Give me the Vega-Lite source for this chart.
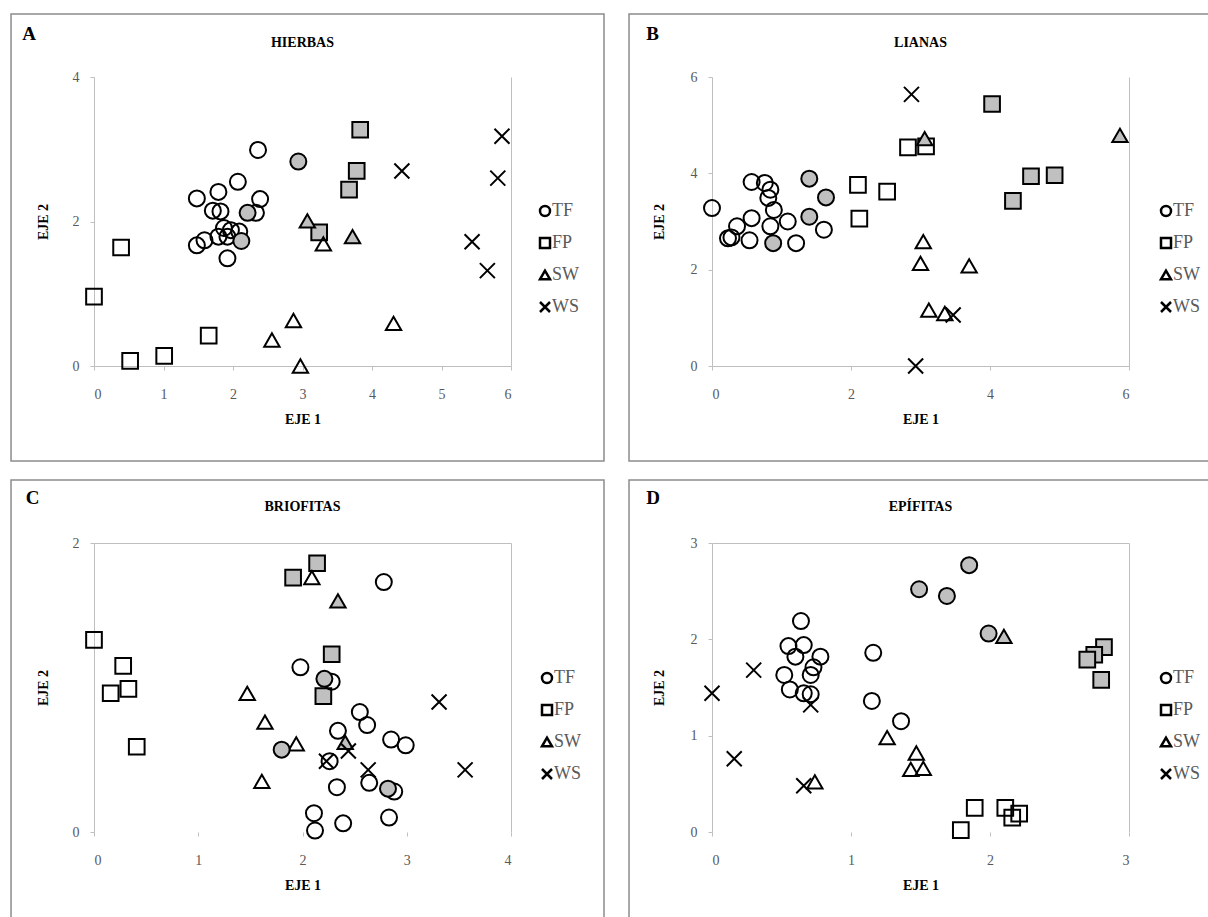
{
  "$schema": "https://vega.github.io/schema/vega-lite/v6.json",
  "background": "white",
  "padding": {"left": 10, "top": 13, "right": 0, "bottom": 0},
  "spacing": 17,
  "datasets": {
    "A": [
      {"grupo": "TF", "relleno": "no", "eje1": 1.48, "eje2": 1.67},
      {"grupo": "TF", "relleno": "no", "eje1": 1.59, "eje2": 1.74},
      {"grupo": "TF", "relleno": "no", "eje1": 1.48, "eje2": 2.32},
      {"grupo": "TF", "relleno": "no", "eje1": 1.79, "eje2": 2.41},
      {"grupo": "TF", "relleno": "no", "eje1": 2.07, "eje2": 2.55},
      {"grupo": "TF", "relleno": "no", "eje1": 2.36, "eje2": 2.99},
      {"grupo": "TF", "relleno": "no", "eje1": 2.39, "eje2": 2.31},
      {"grupo": "TF", "relleno": "no", "eje1": 1.71, "eje2": 2.15},
      {"grupo": "TF", "relleno": "no", "eje1": 1.82, "eje2": 2.14},
      {"grupo": "TF", "relleno": "no", "eje1": 2.33, "eje2": 2.12},
      {"grupo": "TF", "relleno": "no", "eje1": 1.87, "eje2": 1.91},
      {"grupo": "TF", "relleno": "no", "eje1": 1.97, "eje2": 1.88},
      {"grupo": "TF", "relleno": "no", "eje1": 2.09, "eje2": 1.86},
      {"grupo": "TF", "relleno": "no", "eje1": 1.79, "eje2": 1.79},
      {"grupo": "TF", "relleno": "no", "eje1": 1.92, "eje2": 1.79},
      {"grupo": "TF", "relleno": "no", "eje1": 1.92, "eje2": 1.49},
      {"grupo": "TF", "relleno": "si", "eje1": 2.21, "eje2": 2.12},
      {"grupo": "TF", "relleno": "si", "eje1": 2.12, "eje2": 1.73},
      {"grupo": "TF", "relleno": "si", "eje1": 2.94, "eje2": 2.83},
      {"grupo": "FP", "relleno": "no", "eje1": 0.0, "eje2": 0.96},
      {"grupo": "FP", "relleno": "no", "eje1": 0.39, "eje2": 1.64},
      {"grupo": "FP", "relleno": "no", "eje1": 0.52, "eje2": 0.07},
      {"grupo": "FP", "relleno": "no", "eje1": 1.01, "eje2": 0.14},
      {"grupo": "FP", "relleno": "no", "eje1": 1.65, "eje2": 0.42},
      {"grupo": "FP", "relleno": "si", "eje1": 3.83, "eje2": 3.27},
      {"grupo": "FP", "relleno": "si", "eje1": 3.78, "eje2": 2.70},
      {"grupo": "FP", "relleno": "si", "eje1": 3.67, "eje2": 2.44},
      {"grupo": "FP", "relleno": "si", "eje1": 3.24, "eje2": 1.85},
      {"grupo": "SW", "relleno": "si", "eje1": 3.07, "eje2": 2.01},
      {"grupo": "SW", "relleno": "si", "eje1": 3.72, "eje2": 1.79},
      {"grupo": "SW", "relleno": "no", "eje1": 3.30, "eje2": 1.69},
      {"grupo": "SW", "relleno": "no", "eje1": 2.87, "eje2": 0.63},
      {"grupo": "SW", "relleno": "no", "eje1": 4.31, "eje2": 0.59},
      {"grupo": "SW", "relleno": "no", "eje1": 2.97, "eje2": 0.0},
      {"grupo": "SW", "relleno": "no", "eje1": 2.56, "eje2": 0.36},
      {"grupo": "WS", "relleno": "no", "eje1": 5.87, "eje2": 3.18},
      {"grupo": "WS", "relleno": "no", "eje1": 4.43, "eje2": 2.70},
      {"grupo": "WS", "relleno": "no", "eje1": 5.81, "eje2": 2.60},
      {"grupo": "WS", "relleno": "no", "eje1": 5.44, "eje2": 1.72},
      {"grupo": "WS", "relleno": "no", "eje1": 5.66, "eje2": 1.32}
    ],
    "B": [
      {"grupo": "TF", "relleno": "no", "eje1": 0.0, "eje2": 3.28},
      {"grupo": "TF", "relleno": "no", "eje1": 0.57, "eje2": 3.82},
      {"grupo": "TF", "relleno": "no", "eje1": 0.76, "eje2": 3.80},
      {"grupo": "TF", "relleno": "no", "eje1": 0.84, "eje2": 3.66},
      {"grupo": "TF", "relleno": "no", "eje1": 0.81, "eje2": 3.49},
      {"grupo": "TF", "relleno": "no", "eje1": 0.89, "eje2": 3.24},
      {"grupo": "TF", "relleno": "no", "eje1": 0.57, "eje2": 3.07},
      {"grupo": "TF", "relleno": "no", "eje1": 1.09, "eje2": 3.0},
      {"grupo": "TF", "relleno": "no", "eje1": 0.36, "eje2": 2.90},
      {"grupo": "TF", "relleno": "no", "eje1": 0.84, "eje2": 2.90},
      {"grupo": "TF", "relleno": "no", "eje1": 0.23, "eje2": 2.65},
      {"grupo": "TF", "relleno": "no", "eje1": 0.28, "eje2": 2.67},
      {"grupo": "TF", "relleno": "no", "eje1": 0.54, "eje2": 2.61},
      {"grupo": "TF", "relleno": "no", "eje1": 1.61, "eje2": 2.83},
      {"grupo": "TF", "relleno": "no", "eje1": 1.21, "eje2": 2.55},
      {"grupo": "TF", "relleno": "si", "eje1": 1.40, "eje2": 3.89},
      {"grupo": "TF", "relleno": "si", "eje1": 1.64, "eje2": 3.50},
      {"grupo": "TF", "relleno": "si", "eje1": 1.40, "eje2": 3.10},
      {"grupo": "TF", "relleno": "si", "eje1": 0.88, "eje2": 2.55},
      {"grupo": "FP", "relleno": "no", "eje1": 2.10, "eje2": 3.76},
      {"grupo": "FP", "relleno": "no", "eje1": 2.52, "eje2": 3.62},
      {"grupo": "FP", "relleno": "no", "eje1": 2.12, "eje2": 3.06},
      {"grupo": "FP", "relleno": "no", "eje1": 2.82, "eje2": 4.54},
      {"grupo": "FP", "relleno": "no", "eje1": 3.08, "eje2": 4.56},
      {"grupo": "FP", "relleno": "si", "eje1": 4.03, "eje2": 5.44},
      {"grupo": "FP", "relleno": "si", "eje1": 4.59, "eje2": 3.94},
      {"grupo": "FP", "relleno": "si", "eje1": 4.93, "eje2": 3.96},
      {"grupo": "FP", "relleno": "si", "eje1": 4.33, "eje2": 3.43},
      {"grupo": "SW", "relleno": "si", "eje1": 3.06, "eje2": 4.72},
      {"grupo": "SW", "relleno": "si", "eje1": 5.87, "eje2": 4.79},
      {"grupo": "SW", "relleno": "no", "eje1": 3.04, "eje2": 2.58},
      {"grupo": "SW", "relleno": "no", "eje1": 3.00, "eje2": 2.13},
      {"grupo": "SW", "relleno": "no", "eje1": 3.70, "eje2": 2.08},
      {"grupo": "SW", "relleno": "no", "eje1": 3.12, "eje2": 1.16},
      {"grupo": "SW", "relleno": "no", "eje1": 3.35, "eje2": 1.09},
      {"grupo": "WS", "relleno": "no", "eje1": 2.87, "eje2": 5.64},
      {"grupo": "WS", "relleno": "no", "eje1": 3.47, "eje2": 1.06},
      {"grupo": "WS", "relleno": "no", "eje1": 2.93, "eje2": 0.0}
    ],
    "C": [
      {"grupo": "FP", "relleno": "no", "eje1": 0.0, "eje2": 1.33},
      {"grupo": "FP", "relleno": "no", "eje1": 0.28, "eje2": 1.15},
      {"grupo": "FP", "relleno": "no", "eje1": 0.16, "eje2": 0.96},
      {"grupo": "FP", "relleno": "no", "eje1": 0.33, "eje2": 0.99},
      {"grupo": "FP", "relleno": "no", "eje1": 0.41, "eje2": 0.59},
      {"grupo": "FP", "relleno": "si", "eje1": 1.91, "eje2": 1.76},
      {"grupo": "FP", "relleno": "si", "eje1": 2.14, "eje2": 1.86},
      {"grupo": "FP", "relleno": "si", "eje1": 2.28, "eje2": 1.23},
      {"grupo": "FP", "relleno": "si", "eje1": 2.20, "eje2": 0.94},
      {"grupo": "SW", "relleno": "no", "eje1": 2.09, "eje2": 1.76},
      {"grupo": "SW", "relleno": "no", "eje1": 1.94, "eje2": 0.61},
      {"grupo": "SW", "relleno": "no", "eje1": 1.47, "eje2": 0.96},
      {"grupo": "SW", "relleno": "no", "eje1": 1.64, "eje2": 0.76},
      {"grupo": "SW", "relleno": "no", "eje1": 1.61, "eje2": 0.35},
      {"grupo": "SW", "relleno": "si", "eje1": 2.34, "eje2": 1.60},
      {"grupo": "SW", "relleno": "si", "eje1": 2.41, "eje2": 0.62},
      {"grupo": "TF", "relleno": "no", "eje1": 2.78, "eje2": 1.73},
      {"grupo": "TF", "relleno": "no", "eje1": 1.98, "eje2": 1.14},
      {"grupo": "TF", "relleno": "no", "eje1": 2.28, "eje2": 1.04},
      {"grupo": "TF", "relleno": "no", "eje1": 2.55, "eje2": 0.83},
      {"grupo": "TF", "relleno": "no", "eje1": 2.62, "eje2": 0.74},
      {"grupo": "TF", "relleno": "no", "eje1": 2.34, "eje2": 0.70},
      {"grupo": "TF", "relleno": "no", "eje1": 2.85, "eje2": 0.64},
      {"grupo": "TF", "relleno": "no", "eje1": 2.99, "eje2": 0.60},
      {"grupo": "TF", "relleno": "no", "eje1": 2.26, "eje2": 0.49},
      {"grupo": "TF", "relleno": "no", "eje1": 2.33, "eje2": 0.31},
      {"grupo": "TF", "relleno": "no", "eje1": 2.64, "eje2": 0.34},
      {"grupo": "TF", "relleno": "no", "eje1": 2.88, "eje2": 0.28},
      {"grupo": "TF", "relleno": "no", "eje1": 2.11, "eje2": 0.13},
      {"grupo": "TF", "relleno": "no", "eje1": 2.12, "eje2": 0.01},
      {"grupo": "TF", "relleno": "no", "eje1": 2.39, "eje2": 0.06},
      {"grupo": "TF", "relleno": "no", "eje1": 2.83, "eje2": 0.10},
      {"grupo": "TF", "relleno": "si", "eje1": 2.21, "eje2": 1.06},
      {"grupo": "TF", "relleno": "si", "eje1": 1.80, "eje2": 0.57},
      {"grupo": "TF", "relleno": "si", "eje1": 2.82, "eje2": 0.30},
      {"grupo": "WS", "relleno": "no", "eje1": 3.31, "eje2": 0.90},
      {"grupo": "WS", "relleno": "no", "eje1": 3.56, "eje2": 0.43},
      {"grupo": "WS", "relleno": "no", "eje1": 2.23, "eje2": 0.49},
      {"grupo": "WS", "relleno": "no", "eje1": 2.44, "eje2": 0.56},
      {"grupo": "WS", "relleno": "no", "eje1": 2.63, "eje2": 0.43}
    ],
    "D": [
      {"grupo": "TF", "relleno": "no", "eje1": 0.64, "eje2": 2.19},
      {"grupo": "TF", "relleno": "no", "eje1": 0.55, "eje2": 1.93},
      {"grupo": "TF", "relleno": "no", "eje1": 0.66, "eje2": 1.94},
      {"grupo": "TF", "relleno": "no", "eje1": 0.60, "eje2": 1.82},
      {"grupo": "TF", "relleno": "no", "eje1": 0.78, "eje2": 1.82},
      {"grupo": "TF", "relleno": "no", "eje1": 0.73, "eje2": 1.71},
      {"grupo": "TF", "relleno": "no", "eje1": 0.71, "eje2": 1.63},
      {"grupo": "TF", "relleno": "no", "eje1": 0.52, "eje2": 1.63},
      {"grupo": "TF", "relleno": "no", "eje1": 0.56, "eje2": 1.48},
      {"grupo": "TF", "relleno": "no", "eje1": 0.66, "eje2": 1.44},
      {"grupo": "TF", "relleno": "no", "eje1": 0.71, "eje2": 1.43},
      {"grupo": "TF", "relleno": "no", "eje1": 1.16, "eje2": 1.86},
      {"grupo": "TF", "relleno": "no", "eje1": 1.15, "eje2": 1.36},
      {"grupo": "TF", "relleno": "no", "eje1": 1.36, "eje2": 1.15},
      {"grupo": "TF", "relleno": "si", "eje1": 1.85, "eje2": 2.77},
      {"grupo": "TF", "relleno": "si", "eje1": 1.49, "eje2": 2.52},
      {"grupo": "TF", "relleno": "si", "eje1": 1.69, "eje2": 2.45},
      {"grupo": "TF", "relleno": "si", "eje1": 1.99, "eje2": 2.06},
      {"grupo": "SW", "relleno": "si", "eje1": 2.10, "eje2": 2.03},
      {"grupo": "SW", "relleno": "no", "eje1": 1.26, "eje2": 0.98},
      {"grupo": "SW", "relleno": "no", "eje1": 1.47, "eje2": 0.82},
      {"grupo": "SW", "relleno": "no", "eje1": 1.43, "eje2": 0.65},
      {"grupo": "SW", "relleno": "no", "eje1": 1.52, "eje2": 0.66},
      {"grupo": "SW", "relleno": "no", "eje1": 0.74, "eje2": 0.52},
      {"grupo": "FP", "relleno": "si", "eje1": 2.82, "eje2": 1.92},
      {"grupo": "FP", "relleno": "si", "eje1": 2.75, "eje2": 1.84},
      {"grupo": "FP", "relleno": "si", "eje1": 2.70, "eje2": 1.79},
      {"grupo": "FP", "relleno": "si", "eje1": 2.80, "eje2": 1.58},
      {"grupo": "FP", "relleno": "no", "eje1": 1.89, "eje2": 0.25},
      {"grupo": "FP", "relleno": "no", "eje1": 2.11, "eje2": 0.25},
      {"grupo": "FP", "relleno": "no", "eje1": 2.16, "eje2": 0.15},
      {"grupo": "FP", "relleno": "no", "eje1": 2.21, "eje2": 0.19},
      {"grupo": "FP", "relleno": "no", "eje1": 1.79, "eje2": 0.02},
      {"grupo": "WS", "relleno": "no", "eje1": 0.0, "eje2": 1.44},
      {"grupo": "WS", "relleno": "no", "eje1": 0.30, "eje2": 1.68},
      {"grupo": "WS", "relleno": "no", "eje1": 0.71, "eje2": 1.32},
      {"grupo": "WS", "relleno": "no", "eje1": 0.16, "eje2": 0.76},
      {"grupo": "WS", "relleno": "no", "eje1": 0.66, "eje2": 0.48}
    ]
  },
  "vconcat": [
    {
      "spacing": 23,
      "hconcat": [
        {
          "width": 417, "height": 289,
          "title": {"text": "HIERBAS", "offset": -37, "frame": "group"},
          "layer": [
            {
              "data": {"values": [{}]},
              "mark": {"type": "rect", "fill": null, "stroke": "#8c8c8c", "strokeWidth": 1.5},
              "encoding": {
                "x": {"datum": -1.194, "type": "quantitative", "scale": {"domain": [0, 6], "nice": false, "zero": false}, "axis": null},
                "x2": {"datum": 7.338},
                "y": {"datum": 4.872, "type": "quantitative", "scale": {"domain": [0, 4], "nice": false, "zero": false}, "axis": {"orient": "right", "labels": false, "ticks": false, "title": null}},
                "y2": {"datum": -1.315}
              }
            },
            {
              "data": {"name": "A"},
              "mark": {"type": "point", "stroke": "black", "strokeWidth": 2, "opacity": 1},
              "encoding": {
                "x": {"field": "eje1", "type": "quantitative",
                      "axis": {"orient": "bottom", "values": [0, 1, 2, 3, 4, 5, 6], "title": "EJE 1", "labelPadding": 17, "titlePadding": 11}},
                "y": {"field": "eje2", "type": "quantitative",
                      "axis": {"orient": "left", "values": [0, 2, 4], "title": "EJE 2", "labelPadding": 11, "titlePadding": 22}},
                "shape": {"field": "grupo", "type": "nominal",
                          "scale": {"domain": ["TF", "FP", "SW", "WS"], "range": ["circle", "square", "triangle-up", "M-1,-1L1,1M-1,1L1,-1"]},
                          "legend": {"title": null, "orient": "none", "legendX": 442, "legendY": 125}},
                "fill": {"field": "relleno", "type": "nominal", "scale": {"domain": ["no", "si"], "range": ["transparent", "#c0c0c0"]}, "legend": null},
                "size": {"field": "grupo", "type": "nominal", "scale": {"domain": ["WS", "SW", "FP", "TF"], "range": [225, 256, 215, 170]}, "legend": null}
              }
            },
            {
              "data": {"values": [{}]},
              "mark": {"type": "text", "text": "A", "font": "Liberation Serif", "fontSize": 19, "fontWeight": "bold", "align": "center", "baseline": "middle"},
              "encoding": {
                "x": {"datum": -0.935, "type": "quantitative", "axis": null},
                "y": {"datum": 4.595, "type": "quantitative", "axis": null}
              }
            }
          ],
          "resolve": {"axis": {"x": "independent", "y": "independent"}}
        },
        {
          "width": 417, "height": 289,
          "title": {"text": "LIANAS", "offset": -37, "frame": "group"},
          "layer": [
            {
              "data": {"values": [{}]},
              "mark": {"type": "rect", "fill": null, "stroke": "#8c8c8c", "strokeWidth": 1.5},
              "encoding": {
                "x": {"datum": -1.194, "type": "quantitative", "scale": {"domain": [0, 6], "nice": false, "zero": false}, "axis": null},
                "x2": {"datum": 7.338},
                "y": {"datum": 7.308, "type": "quantitative", "scale": {"domain": [0, 6], "nice": false, "zero": false}, "axis": {"orient": "right", "labels": false, "ticks": false, "title": null}},
                "y2": {"datum": -1.972}
              }
            },
            {
              "data": {"name": "B"},
              "mark": {"type": "point", "stroke": "black", "strokeWidth": 2, "opacity": 1},
              "encoding": {
                "x": {"field": "eje1", "type": "quantitative",
                      "axis": {"orient": "bottom", "values": [0, 2, 4, 6], "title": "EJE 1", "labelPadding": 17, "titlePadding": 11}},
                "y": {"field": "eje2", "type": "quantitative",
                      "axis": {"orient": "left", "values": [0, 2, 4, 6], "title": "EJE 2", "labelPadding": 11, "titlePadding": 24}},
                "shape": {"field": "grupo", "type": "nominal",
                          "scale": {"domain": ["TF", "FP", "SW", "WS"], "range": ["circle", "square", "triangle-up", "M-1,-1L1,1M-1,1L1,-1"]},
                          "legend": {"title": null, "orient": "none", "legendX": 445, "legendY": 125}},
                "fill": {"field": "relleno", "type": "nominal", "scale": {"domain": ["no", "si"], "range": ["transparent", "#c0c0c0"]}, "legend": null},
                "size": {"field": "grupo", "type": "nominal", "scale": {"domain": ["WS", "SW", "FP", "TF"], "range": [225, 256, 215, 170]}, "legend": null}
              }
            },
            {
              "data": {"values": [{}]},
              "mark": {"type": "text", "text": "B", "font": "Liberation Serif", "fontSize": 19, "fontWeight": "bold", "align": "center", "baseline": "middle"},
              "encoding": {
                "x": {"datum": -0.856, "type": "quantitative", "axis": null},
                "y": {"datum": 6.893, "type": "quantitative", "axis": null}
              }
            }
          ],
          "resolve": {"axis": {"x": "independent", "y": "independent"}}
        }
      ],
      "resolve": {"scale": {"shape": "independent", "fill": "independent", "size": "independent"}, "legend": {"shape": "independent"}}
    },
    {
      "spacing": 23,
      "hconcat": [
        {
          "width": 417, "height": 289,
          "title": {"text": "BRIOFITAS", "offset": -35, "frame": "group"},
          "layer": [
            {
              "data": {"values": [{}]},
              "mark": {"type": "rect", "fill": null, "stroke": "#8c8c8c", "strokeWidth": 1.5},
              "encoding": {
                "x": {"datum": -0.796, "type": "quantitative", "scale": {"domain": [0, 4], "nice": false, "zero": false}, "axis": {"orient": "top", "labels": false, "ticks": false, "title": null}},
                "x2": {"datum": 4.892},
                "y": {"datum": 2.436, "type": "quantitative", "scale": {"domain": [0, 2], "nice": false, "zero": false}, "axis": {"orient": "right", "labels": false, "ticks": false, "title": null}},
                "y2": {"datum": -0.657}
              }
            },
            {
              "data": {"name": "C"},
              "mark": {"type": "point", "stroke": "black", "strokeWidth": 2, "opacity": 1},
              "encoding": {
                "x": {"field": "eje1", "type": "quantitative",
                      "axis": {"orient": "bottom", "values": [0, 1, 2, 3, 4], "format": "d", "title": "EJE 1", "domain": false, "labelPadding": 17, "titlePadding": 11}},
                "y": {"field": "eje2", "type": "quantitative",
                      "axis": {"orient": "left", "values": [0, 1, 2], "format": "d", "title": "EJE 2", "labelPadding": 11, "titlePadding": 22}},
                "shape": {"field": "grupo", "type": "nominal",
                          "scale": {"domain": ["TF", "FP", "SW", "WS"], "range": ["circle", "square", "triangle-up", "M-1,-1L1,1M-1,1L1,-1"]},
                          "legend": {"title": null, "orient": "none", "legendX": 444, "legendY": 126}},
                "fill": {"field": "relleno", "type": "nominal", "scale": {"domain": ["no", "si"], "range": ["transparent", "#c0c0c0"]}, "legend": null},
                "size": {"field": "grupo", "type": "nominal", "scale": {"domain": ["WS", "SW", "FP", "TF"], "range": [225, 256, 215, 170]}, "legend": null}
              }
            },
            {
              "data": {"values": [{}]},
              "mark": {"type": "text", "text": "C", "font": "Liberation Serif", "fontSize": 19, "fontWeight": "bold", "align": "center", "baseline": "middle"},
              "encoding": {
                "x": {"datum": -0.59, "type": "quantitative", "axis": null},
                "y": {"datum": 2.311, "type": "quantitative", "axis": null}
              }
            }
          ],
          "resolve": {"axis": {"x": "independent", "y": "independent"}}
        },
        {
          "width": 417, "height": 289,
          "title": {"text": "EPÍFITAS", "offset": -35, "frame": "group"},
          "layer": [
            {
              "data": {"values": [{}]},
              "mark": {"type": "rect", "fill": null, "stroke": "#8c8c8c", "strokeWidth": 1.5},
              "encoding": {
                "x": {"datum": -0.597, "type": "quantitative", "scale": {"domain": [0, 3], "nice": false, "zero": false}, "axis": {"orient": "top", "labels": false, "ticks": false, "title": null}},
                "x2": {"datum": 3.669},
                "y": {"datum": 3.654, "type": "quantitative", "scale": {"domain": [0, 3], "nice": false, "zero": false}, "axis": {"orient": "right", "labels": false, "ticks": false, "title": null}},
                "y2": {"datum": -0.986}
              }
            },
            {
              "data": {"name": "D"},
              "mark": {"type": "point", "stroke": "black", "strokeWidth": 2, "opacity": 1},
              "encoding": {
                "x": {"field": "eje1", "type": "quantitative",
                      "axis": {"orient": "bottom", "values": [0, 1, 2, 3], "title": "EJE 1", "domain": false, "labelPadding": 17, "titlePadding": 11}},
                "y": {"field": "eje2", "type": "quantitative",
                      "axis": {"orient": "left", "values": [0, 1, 2, 3], "title": "EJE 2", "labelPadding": 11, "titlePadding": 24}},
                "shape": {"field": "grupo", "type": "nominal",
                          "scale": {"domain": ["TF", "FP", "SW", "WS"], "range": ["circle", "square", "triangle-up", "M-1,-1L1,1M-1,1L1,-1"]},
                          "legend": {"title": null, "orient": "none", "legendX": 445, "legendY": 126}},
                "fill": {"field": "relleno", "type": "nominal", "scale": {"domain": ["no", "si"], "range": ["transparent", "#c0c0c0"]}, "legend": null},
                "size": {"field": "grupo", "type": "nominal", "scale": {"domain": ["WS", "SW", "FP", "TF"], "range": [225, 256, 215, 170]}, "legend": null}
              }
            },
            {
              "data": {"values": [{}]},
              "mark": {"type": "text", "text": "D", "font": "Liberation Serif", "fontSize": 19, "fontWeight": "bold", "align": "center", "baseline": "middle"},
              "encoding": {
                "x": {"datum": -0.424, "type": "quantitative", "axis": null},
                "y": {"datum": 3.467, "type": "quantitative", "axis": null}
              }
            }
          ],
          "resolve": {"axis": {"x": "independent", "y": "independent"}}
        }
      ],
      "resolve": {"scale": {"shape": "independent", "fill": "independent", "size": "independent"}, "legend": {"shape": "independent"}}
    }
  ],
  "resolve": {"scale": {"shape": "independent", "fill": "independent", "size": "independent"}, "legend": {"shape": "independent"}},
  "config": {
    "view": {"stroke": null},
    "font": "Liberation Serif",
    "title": {"font": "Liberation Serif", "fontSize": 14, "fontWeight": "bold", "color": "black", "anchor": "middle"},
    "axis": {
      "grid": false,
      "domainColor": "#bfbfbf",
      "tickColor": "#bfbfbf",
      "tickSize": 4,
      "labelFont": "Liberation Serif",
      "labelFontSize": 14,
      "labelColor": "#595959",
      "titleFont": "Liberation Serif",
      "titleFontSize": 14,
      "titleFontWeight": "bold",
      "titleColor": "black"
    },
    "legend": {
      "padding": 0,
      "labelFont": "Liberation Serif",
      "labelFontSize": 18,
      "labelColor": "#595959",
      "labelOffset": -2,
      "symbolSize": 100,
      "symbolStrokeWidth": 2.5,
      "symbolStrokeColor": "black",
      "symbolFillColor": "transparent",
      "rowPadding": 12
    }
  }
}
